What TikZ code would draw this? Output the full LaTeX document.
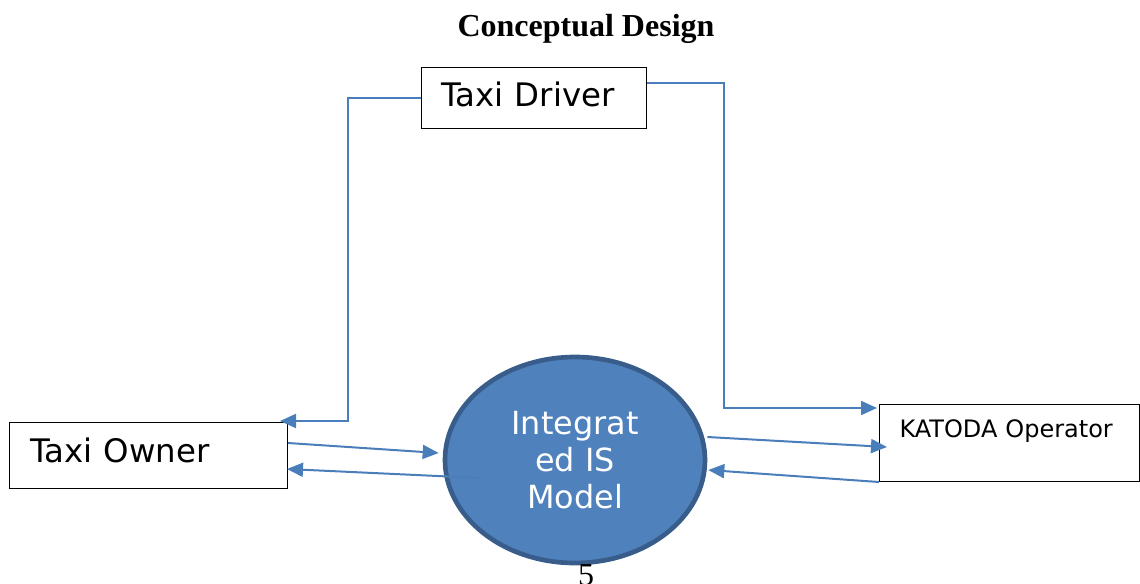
\documentclass[tikz,border=0pt]{standalone}
\usepackage{fontspec}
\setmainfont{Liberation Serif}
\newfontfamily\dejavu{DejaVu Sans}
\usepackage{xcolor}
\usepackage{tikz}
\usetikzlibrary{arrows.meta,positioning,shapes.geometric}
\definecolor{isblue}  {RGB}{79,129,189}
\definecolor{isedge}  {RGB}{56,93,138}
\definecolor{linkblue}{RGB}{74,126,187}
\tikzset{
  actorbox/.style={draw=black, line width=0.75pt, anchor=north west,
                   align=left, inner xsep=15pt, inner ysep=0pt,
                   font=\dejavu\fontsize{24.3}{28}\selectfont},
  opbox/.style   ={actorbox, font=\dejavu\fontsize{18}{21}\selectfont},
  isnode/.style  ={ellipse, draw=isedge, line width=3.5pt, fill=isblue,
                   minimum width=195pt, minimum height=154.5pt,
                   align=center, text=white, inner sep=0pt,
                   font=\dejavu\fontsize{23.9}{27.75}\selectfont},
  arr/.style     ={-{Triangle[length=12pt,width=10.5pt]},
                   draw=linkblue, line width=1.5pt},
}

\begin{document}
\begin{tikzpicture}[x=0.75pt,y=-0.75pt]
  \useasboundingbox (0,0) rectangle (1140,583);
  \clip (0,0) rectangle (1140,583);
  \node[anchor=base, font=\bfseries\fontsize{24}{28}\selectfont] (title) at (586,36) {Conceptual Design};
  % the three actors
  \node[actorbox, text width=138.75pt, text height=29.25pt, text depth=16.5pt] (driver) at (421,67) {Taxi Driver};
  \node[actorbox, text width=177pt, text height=30pt, text depth=19.5pt, inner xsep=15.75pt] (owner) at (9,422) {Taxi Owner};
  \node[opbox, text width=165pt, text height=24.75pt, text depth=33pt] (katoda) at (879,404) {KATODA Operator};
  \node[isnode] (model) at (575,460) {Integrat\\ed IS\\Model};
  % links
  \draw[arr] (driver.west) -- ++(-73,0) |- ([shift={(-8,-1)}]owner.north east);
  \draw[arr] ([shift={(0,16)}]driver.north east) -- ++(77,0) |- ([shift={(-2,4)}]katoda.north west);
  \draw[arr] ([shift={(0,21)}]owner.north east) -- ([shift={(-4,-7)}]model.west);
  \draw[arr] ([shift={(38,18)}]model.west) -- ([shift={(-1,47)}]owner.north east);
  \draw[arr] ([shift={(0,-23)}]model.east) -- ([shift={(8,43)}]katoda.north west);
  \draw[arr] (katoda.south west) -- ([shift={(1,10)}]model.east);
  \node[anchor=base, font=\fontsize{24}{28}\selectfont] (page) at (586,585) {5};
\end{tikzpicture}
\end{document}
